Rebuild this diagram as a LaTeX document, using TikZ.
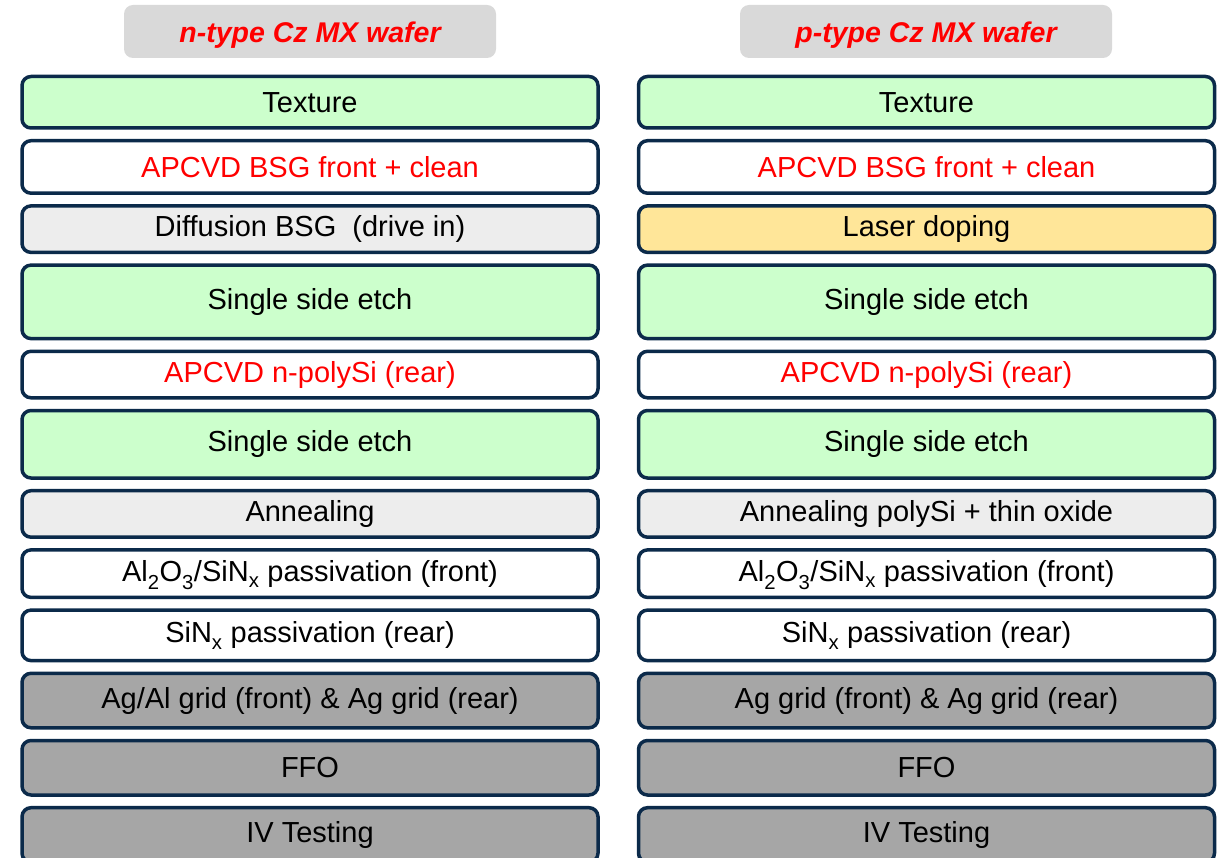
\documentclass[tikz,border=0pt]{standalone}
\usepackage{fontspec}
\setmainfont{Liberation Sans}
\usepackage{xcolor}
\usepackage{tikz}
\usetikzlibrary{positioning}

\definecolor{frame}{HTML}{0B2A4A}
\definecolor{etchgreen}{HTML}{CCFFCC}
\definecolor{lightgray}{HTML}{EDEDED}
\definecolor{darkgray}{HTML}{A6A6A6}
\definecolor{headgray}{HTML}{D9D9D9}
\definecolor{laser}{HTML}{FFE699}
\definecolor{stepred}{HTML}{FF0000}

% subscripts set a little lower than usual
\newcommand{\lowsub}[1]{\raisebox{-0.2ex}[0pt][0pt]{\textsubscript{#1}}}

\begin{document}
\begin{tikzpicture}[
  x=1pt, y=-1pt,
  node distance=9.2pt,
  stepbox/.style={draw=frame, line width=3.5pt, rounded corners=9pt, align=center,
    minimum width=576pt, inner sep=0pt, font=\fontsize{29}{32}\selectfont},
  head/.style={fill=headgray, rounded corners=9pt, minimum width=372pt, minimum height=53pt,
    text height=23pt, text depth=0pt, text=stepred,
    font=\fontsize{28.5}{30}\selectfont\bfseries\itshape},
  green/.style={stepbox, fill=etchgreen},
  light/.style={stepbox, fill=lightgray},
  dark/.style={stepbox, fill=darkgray},
  plain/.style={stepbox, fill=white},
  h50/.style={minimum height=46.5pt},
  h55/.style={minimum height=51.5pt},
  h58/.style={minimum height=54.5pt}
]
  \useasboundingbox (0,0) rectangle (1220,858);

  % headers
  \node[head] (nhead) at (310,31.5) {n-type Cz MX wafer};
  \node[head] (phead) at (926,31.5) {p-type Cz MX wafer};

  % n-type route
  \node[green, h55, anchor=north] (ntex) at (310,74.75) {Texture};
  \node[plain, minimum height=52.5pt, text=stepred, below=of ntex] (nbsg) {APCVD BSG front + clean};
  \node[light, h50, below=of nbsg] (ndiff) {Diffusion BSG~ (drive in)};
  \node[green, minimum height=73.5pt, below=of ndiff] (netch1) {Single side etch};
  \node[plain, h50, text=stepred, below=of netch1] (npoly) {APCVD n-polySi (rear)};
  \node[green, minimum height=67.5pt, below=of npoly] (netch2) {Single side etch};
  \node[light, h50, below=of netch2] (nanneal) {Annealing};
  \node[plain, minimum height=47.5pt, below=of nanneal] (npassf) {Al\lowsub{2}O\lowsub{3}/SiN\lowsub{x} passivation (front)};
  \node[plain, minimum height=50.5pt, below=of npassf] (npassr) {SiN\lowsub{x} passivation (rear)};
  \node[dark, h58, below=of npassr] (ngrid) {Ag/Al grid (front) \& Ag grid (rear)};
  \node[dark, h58, below=of ngrid] (nffo) {FFO};
  \node[dark, h58, below=of nffo] (niv) {IV Testing};

  % p-type route
  \node[green, h55, anchor=north] (ptex) at (926.5,74.75) {Texture};
  \node[plain, minimum height=52.5pt, text=stepred, below=of ptex] (pbsg) {APCVD BSG front + clean};
  \node[stepbox, fill=laser, h50, below=of pbsg] (plaser) {Laser doping};
  \node[green, minimum height=73.5pt, below=of plaser] (petch1) {Single side etch};
  \node[plain, h50, text=stepred, below=of petch1] (ppoly) {APCVD n-polySi (rear)};
  \node[green, minimum height=67.5pt, below=of ppoly] (petch2) {Single side etch};
  \node[light, h50, below=of petch2] (panneal) {Annealing polySi + thin oxide};
  \node[plain, minimum height=47.5pt, below=of panneal] (ppassf) {Al\lowsub{2}O\lowsub{3}/SiN\lowsub{x} passivation (front)};
  \node[plain, minimum height=50.5pt, below=of ppassf] (ppassr) {SiN\lowsub{x} passivation (rear)};
  \node[dark, h58, below=of ppassr] (pgrid) {Ag grid (front) \& Ag grid (rear)};
  \node[dark, h58, below=of pgrid] (pffo) {FFO};
  \node[dark, h58, below=of pffo] (piv) {IV Testing};
\end{tikzpicture}
\end{document}
